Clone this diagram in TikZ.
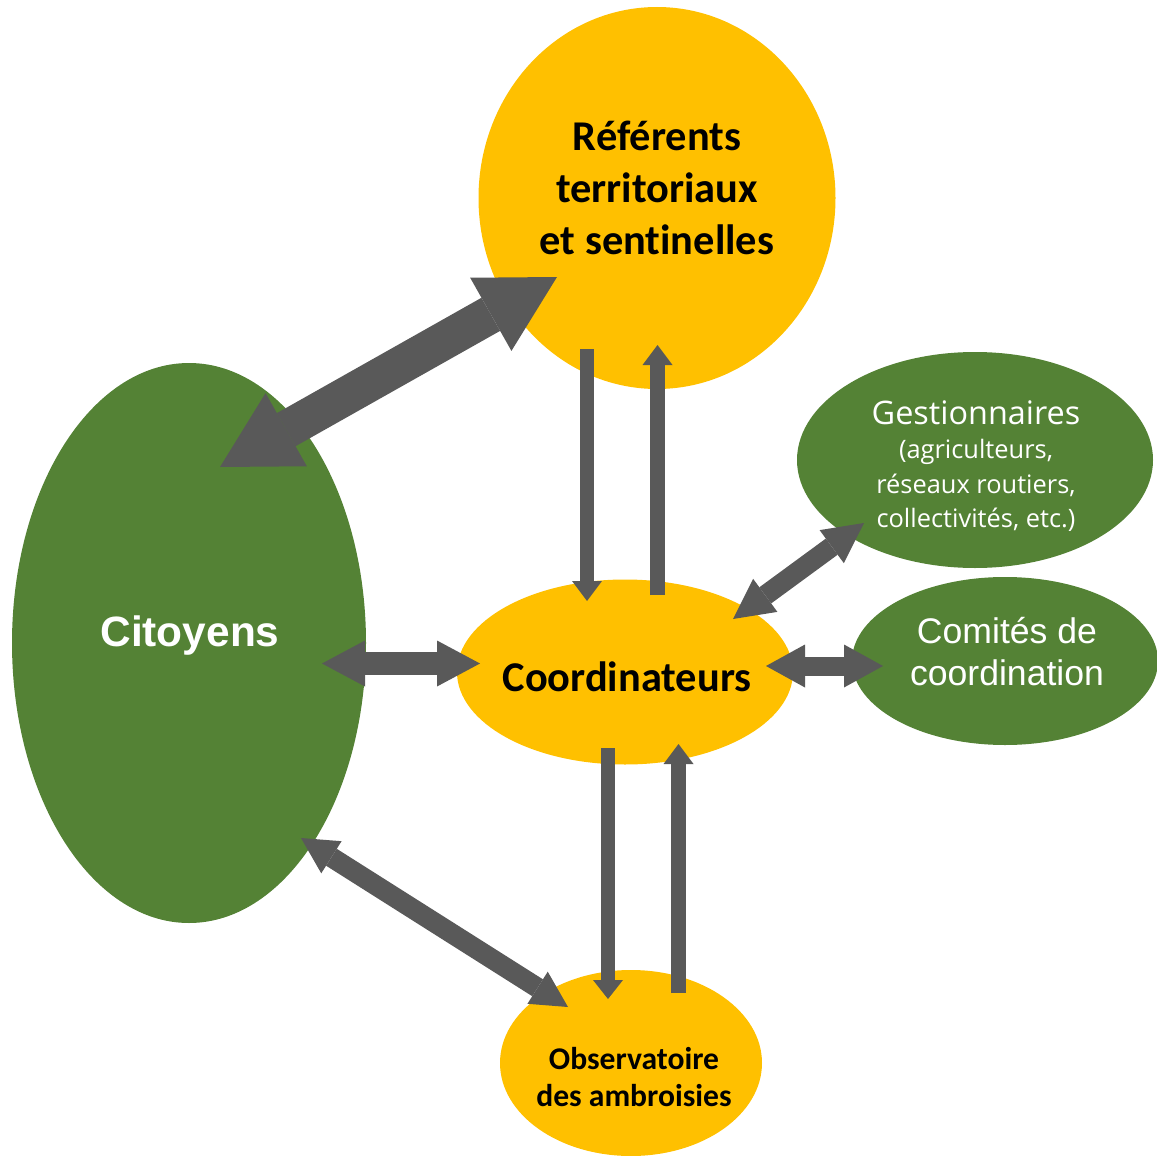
\documentclass[tikz,border=0pt]{standalone}
\usepackage{fontspec}
\setmainfont[Ligatures=NoCommon]{Carlito}
\newfontfamily\arialfont{Liberation Sans}
\newfontfamily\gestfont{Open Sans}
\usetikzlibrary{shapes.geometric,arrows.meta,calc}
\definecolor{jaune}{HTML}{FFC000}
\definecolor{vert}{HTML}{548235}
\definecolor{gris}{HTML}{595959}

\begin{document}
\begin{tikzpicture}[x=0.5pt, y=-0.5pt,
    bulle/.style={ellipse, inner sep=0pt},
    bullejaune/.style={bulle, fill=jaune},
    bullevert/.style={bulle, fill=vert},
    flechedouble/.style n args={3}{draw=gris, line width=#1,
        arrows={Triangle[width=#2,length=#3,line width=0pt]-Triangle[width=#2,length=#3,line width=0pt]}},
    flechesimple/.style n args={3}{draw=gris, line width=#1,
        arrows={-Triangle[width=#2,length=#3,line width=0pt]}}]
    \useasboundingbox (0,0) rectangle (1157,1156);

    % 楕円
    \node[bullejaune, minimum width=178.5pt, minimum height=191pt] (ref) at (657,198) {};
    \node[bullevert, minimum width=177pt, minimum height=280pt] (cit) at (189,643) {};
    \node[bullevert, minimum width=178pt, minimum height=108pt] (gest) at (975,460) {};
    \node[bullevert, minimum width=153pt, minimum height=84pt] (comit) at (1005,661) {};
    \node[bullejaune, minimum width=168pt, minimum height=92.5pt] (coord) at (625,672) {};
    \node[bullejaune, minimum width=131pt, minimum height=93pt] (obs) at (631,1063) {};

    % 文字
    \node[align=center, font=\fontsize{21.2}{26}\selectfont\bfseries] (ref-t) at ($(ref)+(0,-10)$)
        {Référents\\territoriaux\\et sentinelles};
    \node[text=white, font=\arialfont\fontsize{21.2}{25}\selectfont\bfseries] (cit-t) at ($(cit)+(1,-7)$) {Citoyens};
    \node[align=center, text=white, font=\gestfont\fontsize{16.2}{17.2}\selectfont] (gest-t) at ($(gest)+(1,6)$)
        {Gestionnaires\\{\fontsize{12.7}{17.2}\selectfont (agriculteurs,}\\{\fontsize{12.7}{17.2}\selectfont réseaux routiers,}\\{\fontsize{12.7}{17.2}\selectfont collectivités, etc.)}};
    \node[align=center, text=white, font=\arialfont\fontsize{17.8}{21}\selectfont] (comit-t) at ($(comit)+(2,-9)$)
        {Comités de\\coordination};
    \node[font=\fontsize{21.2}{25}\selectfont\bfseries] (coord-t) at ($(coord)+(2,5)$) {Coordinateurs};
    \node[align=center, font=\fontsize{15.8}{18.5}\selectfont\bfseries] (obs-t) at ($(obs)+(3,14)$)
        {Observatoire\\des ambroisies};

    % 矢印
    \draw[flechedouble={19pt}{42pt}{38pt}] ($(cit)+(31,-176)$) -- ($(ref)+(-100,79)$);
    \draw[flechedouble={11.5pt}{23pt}{21.5pt}] ($(cit)+(133,20.5)$) -- ($(coord)+(-145,-8.5)$);
    \draw[flechedouble={10pt}{20.5pt}{20pt}] ($(coord)+(108,-53)$) -- ($(gest)+(-111,63)$);
    \draw[flechedouble={9.5pt}{21.5pt}{19.5pt}] ($(coord)+(141,-6)$) -- ($(comit)+(-122,5)$);
    \draw[flechedouble={10pt}{19pt}{18pt}] ($(cit)+(112,195)$) -- ($(obs)+(-63,-56)$);
    \draw[flechesimple={7pt}{15pt}{10pt}] ($(ref)+(-70,151)$) -- ($(coord)+(-38,-71)$);
    \draw[flechesimple={7.5pt}{15pt}{10pt}] ($(coord)+(32.5,-77)$) -- ($(ref)+(0.5,147)$);
    \draw[flechesimple={7pt}{15pt}{9.5pt}] ($(coord)+(-17,76)$) -- ($(obs)+(-23,-64)$);
    \draw[flechesimple={7.5pt}{15pt}{10pt}] ($(obs)+(47.5,-70)$) -- ($(coord)+(53.5,72)$);
\end{tikzpicture}
\end{document}
